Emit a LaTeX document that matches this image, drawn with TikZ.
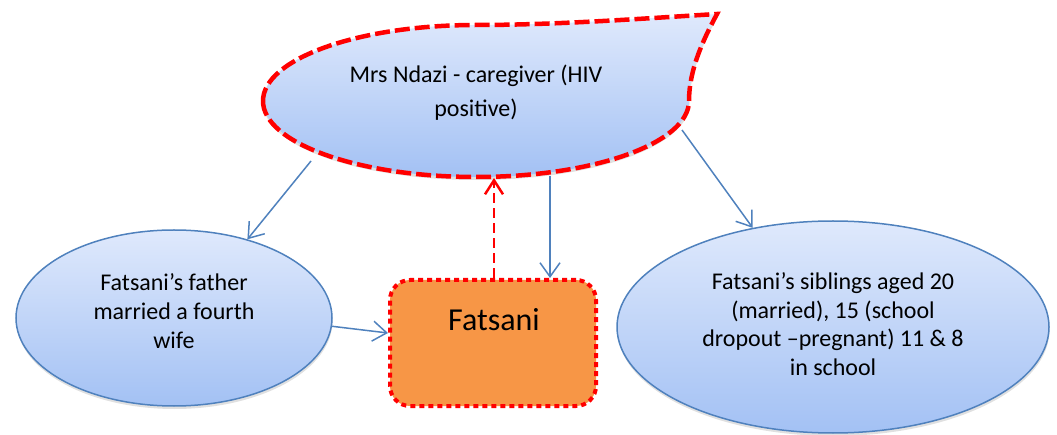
\documentclass[tikz,border=0pt]{standalone}
\usepackage{fontspec}
\setmainfont{Carlito}
\usetikzlibrary{arrows.meta,shadows,calc,shapes.geometric}
\definecolor{bluebd}{RGB}{79,129,189}
\definecolor{filltop}{RGB}{223,233,252}
\definecolor{fillbot}{RGB}{163,193,244}
\definecolor{orangef}{RGB}{247,150,70}
\definecolor{redline}{RGB}{255,0,0}
\begin{document}
\begin{tikzpicture}[x=1pt,y=-1pt,
  shade/.style={drop shadow={shadow xshift=0.5pt,shadow yshift=-3pt,opacity=0.12,fill=black}},
  bubble/.style={ellipse, draw=bluebd, line width=1.5pt, top color=filltop, bottom color=fillbot,
    inner sep=0pt, shade},
  txt/.style={align=center, inner sep=0pt, font=\fontsize{24}{28.7}\selectfont},
  fbox/.style={rectangle, rounded corners=20pt, fill=orangef, draw=redline, line width=4pt,
    dash pattern=on 5pt off 4pt, minimum width=206pt, minimum height=126pt},
  link/.style={draw=bluebd, line width=1.5pt, -{Straight Barb[length=14pt,width=20pt]}},
  redlink/.style={draw=redline, line width=2.5pt, dash pattern=on 10pt off 5pt,
    -{Straight Barb[length=14pt,width=18pt]}}
]
\useasboundingbox (0,0) rectangle (1057,435);

% teardrop (Mrs Ndazi)
\path[top color=filltop, bottom color=fillbot, shade, draw=redline, line width=4.5pt,
      dash pattern=on 15pt off 5pt]
  (263,101) .. controls (263,143) and (358,177) .. (476,177)
            .. controls (594,177) and (689,143) .. (689,101)
            .. controls (689,70) and (703,40) .. (717,14)
            .. controls (650,18) and (560,25) .. (476,25)
            .. controls (358,25) and (263,59) .. (263,101) -- cycle;
\node[font=\fontsize{24}{34}\selectfont, align=center] (M) at (476,93)
  {Mrs Ndazi - caregiver (HIV\\positive)};
\coordinate (tl) at (311,161);
\coordinate (tb) at (550,176);
\coordinate (tm) at (494,178);
\coordinate (tr) at (682,130);

% other nodes
\node[bubble, minimum width=316pt, minimum height=176pt] (L) at (174,318) {};
\node[txt] (Lt) at (174,311) {Fatsani’s father\\married a fourth\\wife};
\node[bubble, minimum width=432pt, minimum height=212pt] (R) at (833,327) {};
\node[txt] (Rt) at (833,324)
  {Fatsani’s siblings aged 20\\(married), 15 (school\\dropout –pregnant) 11 \& 8\\in school};
\node[fbox] (F) at (493,343) {};
\node[font=\fontsize{32}{36}\selectfont] (Ft) at (494,320) {Fatsani};

% connectors
\draw[link] (tl) -- (L.47);
\draw[link] (tb) -- ([xshift=57pt]F.north);
\draw[redlink] ([xshift=1pt]F.north) -- (tm);
\draw[link] (L.-3) -- ([yshift=10pt]F.west);
\draw[link] (tr) -- (R.129);
\end{tikzpicture}
\end{document}
